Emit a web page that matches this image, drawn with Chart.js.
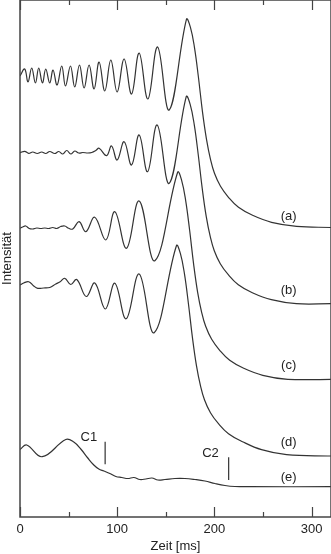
<!DOCTYPE html>
<html>
<head>
<meta charset="utf-8">
<script src="https://cdn.jsdelivr.net/npm/chart.js@4.4.1/dist/chart.umd.min.js"></script>
<style>
  html, body { margin: 0; padding: 0; background: #fff; }
  #wrap { width: 331px; height: 554px; }
</style>
</head>
<body>
<div id="wrap"><canvas id="chart"></canvas></div>
<script>
// time [ms] and intensity (arbitrary units)
const aTime = [0, 4.84, 8.24, 12.06, 15.87, 19.27, 23.08, 26.48, 30.59, 34.0, 38.12, 42.97, 46.79, 51.93, 56.34, 61.21, 65.95, 71.1, 76.25, 81.4, 87.28, 93.45, 99.95, 107.16, 114.79, 122.62, 131.58, 141.58, 153.53, 171.25, 175.37, 179.5, 183.6, 187.7, 191.9, 196.0, 200.1, 206.3, 214.5, 224.8, 239.3, 258.8, 284.6, 320];
const aInt = [441, 448, 435, 449, 434, 449, 434, 448, 434, 447, 432, 451, 431, 451, 430, 452, 429, 452, 428, 455, 426, 457, 425, 458, 423, 464, 418, 470, 407, 497.7, 489.7, 469.7, 439.7, 405.7, 377.7, 357.7, 343.7, 330.7, 319.7, 309.7, 301.7, 294.7, 290.7, 289.5];

const bTime = [0, 4.84, 8.96, 13.09, 17.72, 22.36, 26.48, 30.59, 35.75, 39.88, 44.0, 48.12, 52.24, 56.37, 60.49, 64.61, 69.76, 73.88, 78.0, 81.4, 89.03, 94.18, 99.95, 107.16, 114.79, 122.62, 131.27, 141.17, 153.53, 171.05, 175.17, 179.29, 183.41, 187.53, 191.65, 195.78, 199.9, 206.08, 214.32, 224.63, 239.05, 258.63, 284.39, 320];
const bInt = [364.3, 365.7, 363.7, 365, 363.5, 365, 363.5, 365.5, 363.5, 365.5, 363, 366.5, 363, 366, 364, 364.5, 364, 364.5, 366.5, 368.7, 361.3, 371, 357, 375.3, 352, 382, 345.3, 392, 333.7, 420.3, 412.3, 392.3, 362.3, 328.3, 300.3, 280.3, 266.3, 253.3, 242.3, 232.3, 224.3, 217.3, 213.3, 213.3];

const cTime = [0, 2.78, 5.87, 9.48, 13.09, 17.21, 21.33, 25.45, 29.56, 33.69, 37.82, 41.94, 46.06, 50.18, 54.3, 60.79, 67.7, 76.84, 88.3, 97.6, 109.6, 122.6, 138.8, 162.2, 166.31, 170.43, 174.55, 178.67, 182.79, 186.91, 191.04, 197.22, 205.46, 215.77, 230.19, 249.77, 275.53, 320];
const cInt = [288.7, 290, 291, 288.5, 288, 289, 288.5, 289, 288.5, 289.5, 288.5, 290.5, 291, 288.7, 288, 295.3, 285.3, 299.7, 277, 305.3, 268.7, 316, 256.3, 344.7, 336.7, 316.7, 286.7, 252.7, 224.7, 204.7, 190.7, 177.7, 166.7, 156.7, 148.7, 141.7, 137.7, 137.7];

const dTime = [0, 3.81, 8.96, 14.12, 18.24, 24.42, 30.6, 36.79, 40.91, 46.06, 52.24, 58.42, 68.21, 76.97, 87.79, 97.58, 109.22, 122.62, 138.07, 160.95, 165.07, 169.19, 173.31, 177.43, 181.56, 185.68, 189.8, 195.98, 204.22, 214.53, 228.95, 248.53, 274.29, 320];
const dInt = [232, 234, 235.3, 231, 228.7, 229, 229.5, 233, 235, 238.7, 232.5, 237.5, 220.5, 234, 208, 233.7, 198.2, 243, 184.3, 271.3, 263.3, 243.3, 213.3, 179.3, 151.3, 131.3, 117.3, 104.3, 93.3, 83.3, 75.3, 67.3, 62.3, 61];

const eTime = [0, 6.9, 22.87, 47.09, 55.33, 62.54, 69.76, 75.94, 81.09, 86.24, 92.42, 98.61, 104.79, 110.97, 117.15, 123.33, 129.51, 135.7, 141.88, 149.09, 159.4, 169.7, 180.0, 190.3, 200.6, 210.9, 221.2, 236.7, 320];
const eInt = [67.5, 72, 60.3, 77.5, 75, 68, 59, 52, 48, 46, 43.5, 40.5, 39.5, 38.5, 39.5, 37.5, 38, 39, 37, 37.5, 38.5, 38.5, 37.5, 36, 33.5, 31.5, 30.5, 30.3, 30.3];

// markers C1 / C2
const markerNames = ["C1", "C2"];
const markerTime = [87.6, 214.7];
const markerTop = [75.3, 59.7];
const markerBottom = [52.7, 37];
const markerTextTime = [70.8, 196];
const markerTextInt = [80, 64];

// curve labels
const curveLabels = ["(a)", "(b)", "(c)", "(d)", "(e)"];
const labelTime = 276.4;
const labelInt = [301, 226.5, 152, 74.5, 39.5];

const xTicks = [0, 100, 200, 300];
const minorTicks = [50, 150, 250];

const ink = "#333";

function pts(xs, ys) {
  return xs.map((x, i) => ({ x: x, y: ys[i] }));
}

const curves = [[aTime, aInt], [bTime, bInt], [cTime, cInt], [dTime, dInt], [eTime, eInt]];
const datasets = curves.map((c) => ({
  data: pts(c[0], c[1]),
  borderColor: ink,
  borderWidth: 1.2,
  pointRadius: 0,
  tension: 0.4,
  fill: false,
}));
markerTime.forEach((t, i) => {
  datasets.push({
    data: [{ x: t, y: markerTop[i] }, { x: t, y: markerBottom[i] }],
    borderColor: ink,
    borderWidth: 1.2,
    pointRadius: 0,
    tension: 0,
  });
});

const decor = {
  id: "decor",
  afterDraw(chart) {
    const ctx = chart.ctx;
    const xs = chart.scales.x;
    const ys = chart.scales.y;
    const area = chart.chartArea;
    ctx.save();
    ctx.strokeStyle = "#444";
    ctx.lineWidth = 1.5;
    ctx.strokeRect(area.left, area.top, area.right - area.left, area.bottom - area.top);
    ctx.lineWidth = 1.2;
    xTicks.concat(minorTicks).forEach((v) => {
      const len = xTicks.includes(v) ? 10 : 5;
      const px = Math.round(xs.getPixelForValue(v)) + 0.5;
      ctx.beginPath();
      ctx.moveTo(px, area.bottom);
      ctx.lineTo(px, area.bottom - len);
      ctx.moveTo(px, area.top);
      ctx.lineTo(px, area.top + len);
      ctx.stroke();
    });
    ctx.fillStyle = "#222";
    ctx.font = "13px 'Liberation Sans', Arial, sans-serif";
    ctx.textAlign = "center";
    ctx.textBaseline = "middle";
    curveLabels.forEach((l, i) => {
      ctx.fillText(l, xs.getPixelForValue(labelTime), ys.getPixelForValue(labelInt[i]));
    });
    markerNames.forEach((n, i) => {
      ctx.fillText(n, xs.getPixelForValue(markerTextTime[i]), ys.getPixelForValue(markerTextInt[i]));
    });
    ctx.restore();
  },
};

new Chart(document.getElementById("chart"), {
  type: "line",
  data: { datasets: datasets },
  options: {
    responsive: true,
    maintainAspectRatio: false,
    animation: false,
    events: [],
    layout: { padding: 0 },
    plugins: { legend: { display: false }, tooltip: { enabled: false } },
    scales: {
      x: {
        type: "linear",
        min: 0,
        max: 320,
        border: { display: false },
        grid: { display: false, drawTicks: false },
        afterBuildTicks: (s) => { s.ticks = xTicks.map((v) => ({ value: v })); },
        ticks: { color: "#222", padding: 5, maxRotation: 0, font: { family: "'Liberation Sans', Arial", size: 13 } },
        title: { display: true, text: "Zeit [ms]", color: "#222", padding: { top: 2, bottom: 0 }, font: { family: "'Liberation Sans', Arial", size: 13 } },
        afterFit: (s) => { s.height = 37; },
      },
      y: {
        min: 0,
        max: 517,
        border: { display: false },
        grid: { display: false, drawTicks: false },
        ticks: { display: false },
        title: { display: true, text: "Intensität", color: "#222", padding: 0, font: { family: "'Liberation Sans', Arial", size: 13 } },
        afterFit: (s) => { s.width = 20; },
      },
    },
  },
  plugins: [decor],
});
</script>
</body>
</html>
